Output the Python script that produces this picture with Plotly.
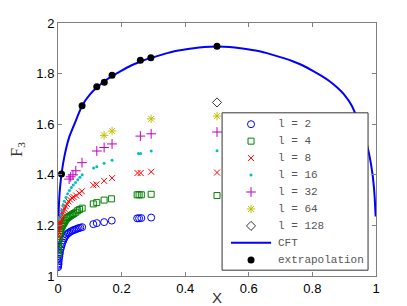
import plotly.graph_objects as go

# ---- data ----
x_l2 = [0.0003, 0.0006, 0.001, 0.0015, 0.002, 0.003, 0.004, 0.005, 0.006, 0.008, 0.010, 0.012,
        0.014, 0.017, 0.020, 0.023, 0.027, 0.031, 0.035, 0.040, 0.045, 0.050, 0.055, 0.060,
        0.065, 0.070, 0.076, 0.111, 0.122, 0.145, 0.169, 0.249, 0.255, 0.262, 0.293]
y_l2 = [1.035, 1.040, 1.045, 1.050, 1.058, 1.068, 1.078, 1.086, 1.094, 1.106, 1.116, 1.125,
        1.132, 1.141, 1.150, 1.157, 1.163, 1.168, 1.172, 1.176, 1.179, 1.182, 1.184, 1.187,
        1.189, 1.191, 1.193, 1.205, 1.209, 1.213, 1.219, 1.228, 1.228, 1.229, 1.231]

x_l4 = [0.0003, 0.0006, 0.001, 0.0015, 0.002, 0.003, 0.004, 0.005, 0.006, 0.008, 0.010, 0.012,
        0.014, 0.017, 0.020, 0.023, 0.027, 0.031, 0.035, 0.040, 0.045, 0.050, 0.056, 0.062,
        0.068, 0.076, 0.111, 0.122, 0.145, 0.168, 0.249, 0.255, 0.262, 0.293, 0.5]
y_l4 = [1.088, 1.100, 1.112, 1.124, 1.132, 1.145, 1.155, 1.163, 1.170, 1.180, 1.188, 1.195,
        1.200, 1.207, 1.213, 1.220, 1.226, 1.231, 1.235, 1.239, 1.243, 1.247, 1.252, 1.258,
        1.263, 1.268, 1.285, 1.290, 1.300, 1.305, 1.321, 1.321, 1.321, 1.323, 1.318]

x_l8 = [0.0003, 0.0006, 0.001, 0.0015, 0.002, 0.003, 0.004, 0.005, 0.0065, 0.008, 0.010, 0.012,
        0.014, 0.017, 0.020, 0.024, 0.028, 0.033, 0.038, 0.044, 0.049, 0.057, 0.067, 0.075,
        0.111, 0.121, 0.145, 0.170, 0.250, 0.260, 0.293, 0.5]
y_l8 = [1.155, 1.165, 1.175, 1.185, 1.192, 1.202, 1.210, 1.216, 1.223, 1.230, 1.237, 1.243,
        1.250, 1.258, 1.266, 1.276, 1.285, 1.295, 1.302, 1.308, 1.312, 1.318, 1.327, 1.335,
        1.359, 1.362, 1.376, 1.387, 1.407, 1.407, 1.412, 1.409]

x_l16 = [0.005, 0.008, 0.012, 0.016, 0.020, 0.025, 0.030, 0.036, 0.042, 0.048, 0.055, 0.062,
         0.069, 0.076, 0.112, 0.122, 0.145, 0.170, 0.253, 0.260, 0.293, 0.5]
y_l16 = [1.225, 1.240, 1.260, 1.280, 1.295, 1.310, 1.325, 1.338, 1.350, 1.360, 1.370, 1.380,
         1.390, 1.400, 1.427, 1.432, 1.446, 1.458, 1.484, 1.484, 1.494, 1.495]

x_l32 = [0.035, 0.040, 0.047, 0.056, 0.0755, 0.122, 0.145, 0.170, 0.259, 0.293, 0.5]
y_l32 = [1.383, 1.392, 1.400, 1.416, 1.448, 1.494, 1.508, 1.522, 1.553, 1.562, 1.569]

x_l64 = [0.145, 0.170, 0.293, 0.5]
y_l64 = [1.556, 1.573, 1.621, 1.632]

x_l128 = [0.5]
y_l128 = [1.686]

cft_x = [0.001, 0.002, 0.004, 0.007, 0.011, 0.02, 0.035, 0.05, 0.0757, 0.1, 0.122, 0.146,
         0.17, 0.2, 0.23, 0.26, 0.29, 0.33, 0.37, 0.42, 0.46, 0.5, 0.54, 0.58, 0.63, 0.67,
         0.71, 0.74, 0.77, 0.8, 0.83, 0.854, 0.878, 0.9, 0.924, 0.95, 0.965, 0.98, 0.989,
         0.993, 0.996, 0.998, 0.999]
cft_y = [1.235, 1.256, 1.308, 1.357, 1.403, 1.472, 1.548, 1.595, 1.673, 1.717, 1.745, 1.770,
         1.790, 1.812, 1.832, 1.848, 1.861, 1.876, 1.889, 1.899, 1.905, 1.907, 1.905, 1.899,
         1.889, 1.876, 1.861, 1.848, 1.832, 1.812, 1.790, 1.770, 1.745, 1.717, 1.673, 1.595,
         1.548, 1.472, 1.403, 1.357, 1.308, 1.256, 1.235]

ext_x = [0.011, 0.0757, 0.122, 0.1455, 0.170, 0.259, 0.292, 0.5]
ext_y = [1.403, 1.673, 1.748, 1.766, 1.793, 1.853, 1.863, 1.908]

x_ticks = [0, 0.2, 0.4, 0.6, 0.8, 1]
x_tick_labels = ["0", "0.2", "0.4", "0.6", "0.8", "1"]
y_ticks = [1, 1.2, 1.4, 1.6, 1.8, 2]
y_tick_labels = ["1", "1.2", "1.4", "1.6", "1.8", "2"]

series_names = ["l = 2", "l = 4", "l = 8", "l = 16", "l = 32", "l = 64", "l = 128"]

# ---- styles ----
styles = [
    dict(symbol="circle-open", color="#0000ff", size=7, lw=1),
    dict(symbol="square-open", color="#008000", size=6, lw=1),
    dict(symbol="x-thin-open", color="#ff0000", size=6, lw=1),
    dict(symbol="circle", color="#00bfbf", size=3, lw=0),
    dict(symbol="cross-thin-open", color="#bf00bf", size=7, lw=1),
    dict(symbol="asterisk-open", color="#bfbf00", size=7, lw=1),
    dict(symbol="diamond-open", color="#333333", size=7, lw=1),
]
series_x = [x_l2, x_l4, x_l8, x_l16, x_l32, x_l64, x_l128]
series_y = [y_l2, y_l4, y_l8, y_l16, y_l32, y_l64, y_l128]

fig = go.Figure()

def mk(st):
    return dict(symbol=st["symbol"], color=st["color"], size=st["size"],
                line=dict(color=st["color"], width=st["lw"]))

for xs, ys, name, st in zip(series_x, series_y, series_names, styles):
    fig.add_trace(go.Scatter(x=xs, y=ys, mode="markers", name=name,
                             marker=mk(st), showlegend=False))

fig.add_trace(go.Scatter(
    x=cft_x, y=cft_y, mode="lines", name="CFT", showlegend=False,
    line=dict(color="#0000ff", width=2, shape="spline", smoothing=0.6),
))
fig.add_trace(go.Scatter(
    x=ext_x, y=ext_y, mode="markers", name="extrapolation", showlegend=False,
    marker=dict(symbol="circle", color="black", size=7),
))

# ---- hand-drawn legend on an overlay axis (same data ranges) ----
LX0, LX1, LY0, LY1 = 0.516, 0.975, 1.023, 1.645
row_y = [1.600, 1.533, 1.466, 1.399, 1.332, 1.265, 1.198, 1.131, 1.063]
sym_x = 0.607
text_x = 0.684

fig.add_trace(go.Scatter(
    x=[LX0, LX1, LX1, LX0, LX0], y=[LY0, LY0, LY1, LY1, LY0],
    xaxis="x2", yaxis="y2", mode="lines", fill="toself", fillcolor="white",
    line=dict(color="#333333", width=1), showlegend=False, hoverinfo="skip",
))
for i, st in enumerate(styles):
    fig.add_trace(go.Scatter(x=[sym_x], y=[row_y[i]], xaxis="x2", yaxis="y2",
                             mode="markers", marker=mk(st), showlegend=False,
                             hoverinfo="skip"))
fig.add_trace(go.Scatter(x=[0.544, 0.670], y=[row_y[7], row_y[7]], xaxis="x2", yaxis="y2",
                         mode="lines", line=dict(color="#0000ff", width=2),
                         showlegend=False, hoverinfo="skip"))
fig.add_trace(go.Scatter(x=[sym_x], y=[row_y[8]], xaxis="x2", yaxis="y2",
                         mode="markers", marker=dict(symbol="circle", color="black", size=7),
                         showlegend=False, hoverinfo="skip"))

legend_labels = series_names + ["CFT", "extrapolation"]
for lab, yy in zip(legend_labels, row_y):
    fig.add_annotation(x=text_x, y=yy, xref="x", yref="y", text=lab, showarrow=False,
                       xanchor="left", yanchor="middle",
                       font=dict(family="Liberation Mono, Courier New", size=11, color="#555555"))

axis_common = dict(
    showline=True, linecolor="#808080", linewidth=1, mirror="ticks",
    ticks="inside", ticklen=4, tickcolor="#808080",
    showgrid=False, zeroline=False, automargin=False,
    tickfont=dict(family="Liberation Sans, Arial", size=13, color="black"),
)

# page body adds an 8px offset; figure size/margins compensate for it
fig.update_layout(
    width=399, height=298,
    margin=dict(l=50, r=31, t=15, b=30),
    plot_bgcolor="white", paper_bgcolor="white",
    showlegend=False,
    xaxis=dict(range=[0, 1], tickvals=x_ticks, ticktext=x_tick_labels,
               title=dict(text="X", standoff=3,
                          font=dict(family="Liberation Sans, Arial", size=15, color="#333333")),
               **axis_common),
    yaxis=dict(range=[1, 2], tickvals=y_ticks, ticktext=y_tick_labels,
               title=dict(text="F<sub>3</sub>", standoff=12,
                          font=dict(family="Liberation Serif, Times New Roman", size=16, color="#333333")),
               **axis_common),
    xaxis2=dict(overlaying="x", range=[0, 1], visible=False),
    yaxis2=dict(overlaying="y", range=[1, 2], visible=False),
)

fig.write_html("out.html")
